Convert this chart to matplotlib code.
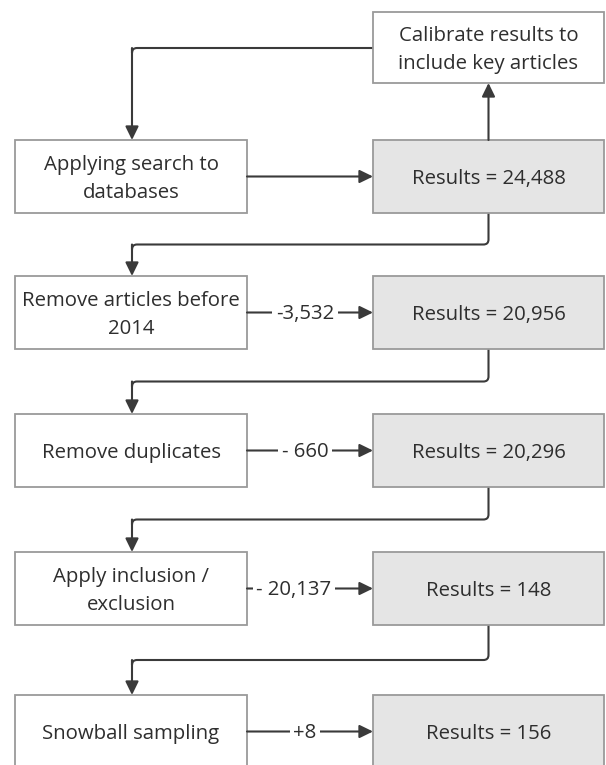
import matplotlib
matplotlib.use("Agg")
import matplotlib.pyplot as plt
from matplotlib.patches import Rectangle, PathPatch
from matplotlib.path import Path

plt.rcParams['font.family'] = ['Open Sans', 'DejaVu Sans']

# flow steps (left column) and result counts (right column)
steps = ["Applying search to\ndatabases", "Remove articles before\n2014",
         "Remove duplicates", "Apply inclusion /\nexclusion", "Snowball sampling"]
results = [24488, 20956, 20296, 148, 156]
changes = ["-3,532", "- 660", "- 20,137", "+8"]
calibrate_text = "Calibrate results to\ninclude key articles"

# layout in pixels (y downwards)
W, H = 606, 765
row_top = [140, 276, 414, 552, 695]
box_h = 73
left_x0, left_x1 = 15, 247
right_x0, right_x1 = 373, 604
cal_y0, cal_y1 = 12, 83
drop_x = 132
label_x = [305, 305, 294, 305]

edge_col = '#9a9a9a'
fill_col = '#e5e5e5'
line_col = '#3a3a3a'
text_col = '#2e2e2e'
fs = 14.7

fig = plt.figure(figsize=(W / 100, H / 100), dpi=100)
ax = fig.add_axes([0, 0, 1, 1])
ax.set_xlim(0, W)
ax.set_ylim(H, 0)
ax.axis('off')


def box(x0, y0, x1, y1, text, fill='white'):
    ax.add_patch(Rectangle((x0, y0), x1 - x0, y1 - y0, facecolor=fill,
                           edgecolor=edge_col, lw=1.3, zorder=2))
    ax.text((x0 + x1) / 2, (y0 + y1) / 2 + 2.5, text, ha='center', va='center',
            fontsize=fs, color=text_col, linespacing=1.55, zorder=3)


def arrow(p0, p1):
    ax.annotate("", xy=p1, xytext=p0,
                arrowprops=dict(arrowstyle='-|>,head_length=0.45,head_width=0.22',
                                mutation_scale=18, color=line_col, lw=1.5,
                                shrinkA=0, shrinkB=0), zorder=4)


def elbow(points, r=5):
    # polyline with rounded corners, last segment drawn as arrow
    verts = [points[0]]
    codes = [Path.MOVETO]
    for i in range(1, len(points) - 1):
        px, py = points[i]
        ax_, ay_ = points[i - 1]
        bx, by = points[i + 1]
        d0 = ((px - ax_) ** 2 + (py - ay_) ** 2) ** 0.5
        d1 = ((bx - px) ** 2 + (by - py) ** 2) ** 0.5
        s = (px - (px - ax_) / d0 * r, py - (py - ay_) / d0 * r)
        e = (px + (bx - px) / d1 * r, py + (by - py) / d1 * r)
        verts += [s, (px, py), e]
        codes += [Path.LINETO, Path.CURVE3, Path.CURVE3]
    verts.append(points[-2] if len(points) > 2 else points[-1])
    codes.append(Path.LINETO)
    ax.add_patch(PathPatch(Path(verts, codes), facecolor='none',
                           edgecolor=line_col, lw=1.5, zorder=1))
    arrow(points[-2], points[-1])


mid_x = (right_x0 + right_x1) / 2
box(right_x0, cal_y0, right_x1, cal_y1, calibrate_text)

for i, (step, res) in enumerate(zip(steps, results)):
    y0 = row_top[i]
    y1 = y0 + box_h
    yc = (y0 + y1) / 2
    box(left_x0, y0, left_x1, y1, step)
    box(right_x0, y0, right_x1, y1, f"Results = {res:,}", fill=fill_col)
    if i == 0:
        arrow((left_x1, yc), (right_x0, yc))
    else:
        lx = label_x[i - 1]
        t = ax.text(lx, yc + 1.5, changes[i - 1], ha='center', va='center',
                    fontsize=fs, color=text_col, zorder=5)
        t.set_bbox(dict(facecolor='white', edgecolor='none', pad=2.5))
        arrow((left_x1, yc), (right_x0, yc))
    if i < len(steps) - 1:
        ny = row_top[i + 1]
        ym = (y1 + ny) / 2
        elbow([(mid_x, y1), (mid_x, ym), (drop_x, ym), (drop_x, ny)])

# feedback loop through calibration
arrow((mid_x, row_top[0]), (mid_x, cal_y1))
cal_mid = (cal_y0 + cal_y1) / 2 + 0.5
elbow([(right_x0, cal_mid), (drop_x, cal_mid), (drop_x, row_top[0])])

fig.savefig("out.png", dpi=100, facecolor='white')
